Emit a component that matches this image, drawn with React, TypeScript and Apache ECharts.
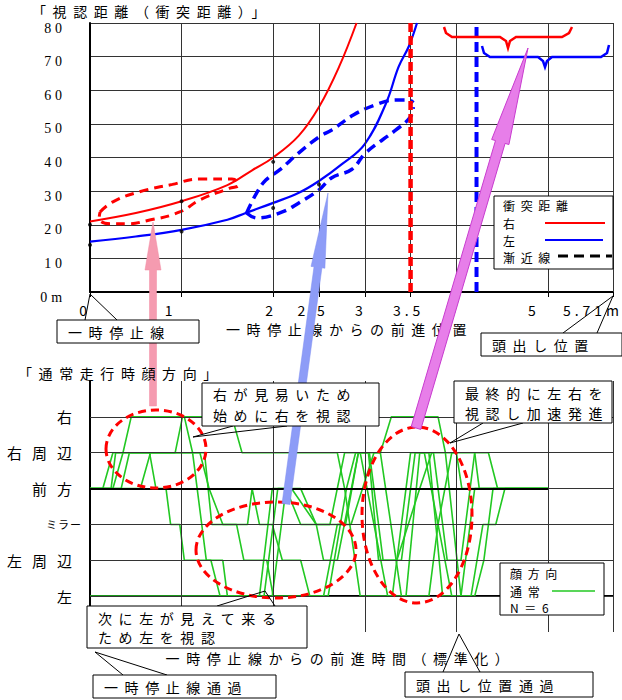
import { useEffect, useRef } from 'react';
import * as echarts from 'echarts';

const JP = '"Noto Sans CJK JP", "Noto Sans", sans-serif';
const SERIF = '"Liberation Serif", "DejaVu Serif", serif';

// ---------- top panel data ----------
const X_TICK_VALUES = [0, 1, 2, 2.5, 3, 3.5, 4, 5, 5.71];
const X_TICK_LABELS = ['0', '1', '2', '2.5', '3', '3.5', '4', '5', '5.71m'];
const X_GRID_TOP = [1, 2, 2.5, 3, 3.5, 4, 5, 5.71];

const RIGHT_DIST = [[0, 21], [0.5, 23.5], [1, 27], [1.5, 31.8], [1.77, 36.2], [2, 40], [2.28, 46.5], [2.5, 55], [2.72, 67], [2.91, 80]];
const LEFT_DIST = [[0, 15], [0.5, 16.5], [1, 18.5], [1.5, 21.5], [1.7, 23.5], [2, 26.5], [2.28, 29.5], [2.5, 33], [2.75, 38], [3, 44], [3.23, 56], [3.37, 67], [3.48, 73], [3.57, 80]];
const RIGHT_MEASURED = [[0, 20], [1, 27], [2, 38.7]];
const LEFT_MEASURED = [[0, 14], [1, 18], [2, 25], [2.5, 32]];
const RIGHT_ASYMPTOTE = 3.5;
const LEFT_ASYMPTOTE = 4.22;
const RIGHT_SPREAD = [[0.11, 23.8], [0.25, 26.8], [0.54, 29.8], [0.9, 32], [1.2, 33.6], [1.55, 33.6], [1.62, 31.8], [1.52, 30.8], [1.2, 27.4], [0.98, 23.8], [0.62, 21.2], [0.4, 20.3], [0.22, 20.3], [0.1, 22], [0.11, 23.8]];
const LEFT_SPREAD_UPPER = [[1.71, 23.5], [1.82, 29.5], [1.92, 33.3], [2.07, 36.3], [2.28, 41.4], [2.5, 46.1], [2.64, 48.2], [2.88, 52.7], [3.12, 55.7], [3.34, 57.1], [3.48, 57.1], [3.53, 56.3]];
const LEFT_SPREAD_LOWER = [[1.71, 23.5], [1.82, 22], [2.1, 23.8], [2.28, 26.5], [2.5, 30.4], [2.64, 34], [2.86, 36.5], [3.01, 41.4], [3.34, 48.2], [3.5, 52.1], [3.53, 55]];

// ---------- bottom panel data ----------
const LEVELS = ['左', '左周辺', 'ミラー', '前方', '右周辺', '右'];
const X_GRID_BOTTOM = [1, 2, 3, 4, 5, 5.71];
const SUBJECT_1 = [[0, 3], [0.25, 3], [0.36, 4], [0.45, 5], [1.03, 5], [1.12, 4], [1.25, 4], [1.33, 2], [1.6, 2], [1.68, 1], [1.93, 1], [2.0, 0], [2.55, 0], [2.7, 2], [2.85, 2], [3.1, 4], [3.17, 4], [3.29, 5], [3.8, 5], [3.88, 4], [4.0, 4], [4.06, 3], [5, 3]];
const SUBJECT_2 = [[0, 3], [0.14, 3], [0.25, 4], [0.93, 4], [1.01, 5], [1.55, 5], [1.66, 4], [2.7, 4], [2.78, 3], [2.95, 0], [3.3, 0], [3.5, 4], [3.65, 4], [3.95, 0], [4.16, 0], [4.29, 2], [4.43, 2], [4.53, 3], [5, 3]];
const SUBJECT_3 = [[0, 3], [0.23, 3], [0.28, 4], [1.12, 4], [1.27, 1], [1.45, 1], [1.5, 0], [1.9, 0], [2.05, 3], [2.2, 3], [2.47, 2], [2.62, 2], [2.78, 4], [2.95, 4], [3.1, 2], [3.25, 0], [3.45, 0], [3.6, 4], [3.75, 4], [3.9, 1], [4.05, 1], [4.2, 4], [4.35, 4], [4.45, 3], [5, 3]];
const SUBJECT_4 = [[0, 3], [0.34, 3], [0.43, 4], [0.65, 4], [0.72, 3], [0.83, 3], [0.88, 2], [0.98, 2], [1.03, 1], [1.32, 1], [1.42, 0], [1.85, 0], [1.99, 3], [2.14, 3], [2.3, 2], [2.47, 2], [2.55, 1], [2.7, 1], [2.93, 4], [3.05, 4], [3.2, 1], [3.4, 1], [3.55, 4], [3.7, 4], [3.85, 0], [4.05, 0], [4.2, 3], [5, 3]];
const SUBJECT_5 = [[0, 3], [0.55, 3], [0.66, 4], [1.2, 4], [1.3, 3], [1.45, 2], [1.72, 2], [1.77, 3], [1.85, 2], [1.99, 2], [2.1, 1], [2.3, 1], [2.4, 0], [2.6, 0], [2.8, 3], [2.9, 4], [3.04, 4], [3.15, 1], [3.35, 1], [3.6, 3], [3.73, 4], [3.88, 4], [4.05, 0], [4.2, 0], [4.3, 1], [4.4, 3], [5, 3]];
const SUBJECT_6 = [[0, 0], [1.99, 0], [2.14, 3], [2.3, 3], [2.47, 2], [2.79, 2], [2.93, 4], [3.17, 4], [3.4, 0], [3.7, 0], [3.8, 2], [3.95, 4], [4.2, 4], [4.25, 3], [5, 3]];
const SUBJECTS = [SUBJECT_1, SUBJECT_2, SUBJECT_3, SUBJECT_4, SUBJECT_5, SUBJECT_6];

const GREEN = '#22c822';
// right padding (px) per x tick label, to set each label slightly left of its tick as in the original
const X_LABEL_PAD = [10, 22, 4, 12, 8, 4, 6, 28, 40];

const LEVEL_SET = new Set(['左', '左周辺', '前方', '右周辺', '右']);
function spacingFor(t: string) {
  if (LEVEL_SET.has(t)) return '10px';
  if (t === 'ミラー') return '1px';
  if (/[\u3000-\u30ff\u4e00-\u9fff\uff00-\uffef]/.test(t)) return '0.47em';
  return '0.28em';
}
function applySpacing(root: HTMLElement) {
  root.querySelectorAll('text').forEach((el) => {
    const t = el.textContent || '';
    (el as SVGTextElement).style.letterSpacing = spacingFor(t);
  });
}

function arrowPts(tail: number[], tip: number[], headLen: number, headHalf: number, shaftHalf: number) {
  const dx = tip[0] - tail[0];
  const dy = tip[1] - tail[1];
  const L = Math.hypot(dx, dy);
  const ux = dx / L, uy = dy / L;
  const px = -uy, py = ux;
  const bx = tip[0] - ux * headLen, by = tip[1] - uy * headLen;
  return [
    [tail[0] + px * shaftHalf, tail[1] + py * shaftHalf],
    [bx + px * shaftHalf, by + py * shaftHalf],
    [bx + px * headHalf, by + py * headHalf],
    tip,
    [bx - px * headHalf, by - py * headHalf],
    [bx - px * shaftHalf, by - py * shaftHalf],
    [tail[0] - px * shaftHalf, tail[1] - py * shaftHalf],
  ];
}

function txt(text: string, x: number, y: number, size = 14, z = 102) {
  return { type: 'text', z, style: { text, x, y, fill: '#000', fontSize: size, fontFamily: JP, align: 'left', verticalAlign: 'middle' } };
}
function callout(x: number, y: number, w: number, h: number, lines: string[], lineYs: number[], pointer: number[][]) {
  return [
    { type: 'polyline', z: 100, shape: { points: pointer }, style: { stroke: '#000', fill: 'none', lineWidth: 1 } },
    { type: 'rect', z: 101, shape: { x, y, width: w, height: h }, style: { fill: '#fff', stroke: '#000', lineWidth: 1 } },
    ...lines.map((l, i) => txt(l, x + 11, lineYs[i])),
  ];
}

function buildOption() {
  const gridLine = { color: '#333', width: 1, type: 'solid' };
  const mlBase = { silent: true, symbol: ['none', 'none'], label: { show: false }, animation: false, emphasis: { disabled: true } };
  const xRich: Record<string, any> = {};
  X_LABEL_PAD.forEach((p, i) => {
    xRich['p' + i] = { fontSize: 14, fontFamily: JP, color: '#000', padding: [0, p, 0, 0] };
  });

  const graphics: any[] = [
    txt('「視認距離（衝突距離）」', 32, 11),
    txt('「通常走行時顔方向」', 18, 373),
    // top legend
    { type: 'rect', z: 60, shape: { x: 494, y: 196, width: 119, height: 73 }, style: { fill: '#fff', stroke: '#000', lineWidth: 1 } },
    txt('衝突距離', 503, 205, 12, 61),
    txt('右', 503, 223, 12, 61),
    txt('左', 503, 240, 12, 61),
    txt('漸近線', 503, 257, 12, 61),
    { type: 'line', z: 61, shape: { x1: 545, y1: 223, x2: 605, y2: 223 }, style: { stroke: '#ff0000', lineWidth: 2 } },
    { type: 'line', z: 61, shape: { x1: 545, y1: 240, x2: 603, y2: 240 }, style: { stroke: '#0000ff', lineWidth: 2 } },
    { type: 'line', z: 61, shape: { x1: 558, y1: 256, x2: 612, y2: 256 }, style: { stroke: '#000', lineWidth: 3, lineDash: [10, 6] } },
    // bottom legend
    { type: 'rect', z: 60, shape: { x: 500, y: 563, width: 104, height: 52 }, style: { fill: '#fff', stroke: '#000', lineWidth: 1 } },
    txt('顔方向', 510, 573, 12, 61),
    txt('通常', 510, 591, 12, 61),
    txt('N＝6', 510, 607, 12, 61),
    { type: 'line', z: 61, shape: { x1: 552, y1: 591, x2: 595, y2: 591 }, style: { stroke: GREEN, lineWidth: 1.5 } },
    // braces
    { type: 'polyline', z: 80, shape: { points: [[444, 27], [446, 33], [452, 37], [500, 37], [506, 41], [508, 48], [510, 41], [516, 37], [562, 37], [569, 33], [572, 27]] }, style: { stroke: '#ff0000', lineWidth: 2.5, fill: 'none' } },
    { type: 'polyline', z: 80, shape: { points: [[482, 46], [484, 53], [490, 57], [538, 57], [543, 61], [545, 67], [547, 61], [552, 57], [601, 57], [607, 53], [609, 45]] }, style: { stroke: '#0000ff', lineWidth: 2.5, fill: 'none' } },
    // arrows
    { type: 'polygon', z: 90, shape: { points: arrowPts([153, 406], [153, 222], 48, 8, 3.5) }, style: { fill: '#f59bb0', stroke: '#f38aa2', lineWidth: 0.5 } },
    { type: 'polygon', z: 90, shape: { points: arrowPts([286, 504], [328, 193], 75, 7, 4) }, style: { fill: '#8d9cf7', stroke: '#7d8cf0', lineWidth: 0.5 } },
    { type: 'polygon', z: 90, shape: { points: arrowPts([416, 428], [528, 48], 98, 9, 5) }, style: { fill: '#e77ee9', stroke: '#c83ccf', lineWidth: 1 } },
    // ellipses in bottom panel
    { type: 'ellipse', z: 80, shape: { cx: 156, cy: 449, rx: 50, ry: 39 }, style: { fill: 'none', stroke: '#ff0000', lineWidth: 3, lineDash: [8, 5] } },
    { type: 'ellipse', z: 80, shape: { cx: 276, cy: 550, rx: 80, ry: 48 }, style: { fill: 'none', stroke: '#ff0000', lineWidth: 3, lineDash: [8, 5] } },
    { type: 'ellipse', z: 80, shape: { cx: 417, cy: 515, rx: 55, ry: 88 }, style: { fill: 'none', stroke: '#ff0000', lineWidth: 3, lineDash: [8, 5] } },
    // callouts
    ...callout(57, 320, 142, 23, ['一時停止線'], [331.5], [[85, 320], [90, 294], [117, 320]]),
    ...callout(481, 333, 141, 23, ['頭出し位置'], [345], [[563, 333], [613, 296], [597, 333]]),
    ...callout(202, 383, 177, 43, ['右が見易いため', '始めに右を視認'], [394, 415], [[233, 426], [193, 437], [287, 426]]),
    ...callout(454, 381, 158, 42, ['最終的に左右を', '視認し加速発進'], [393, 413], [[483, 423], [450, 443], [523, 423]]),
    ...callout(87, 606, 220, 42, ['次に左が見えて来る', 'ため左を視認'], [618, 637], [[217, 606], [265, 591], [275, 606]]),
    ...callout(93, 675, 183, 23, ['一時停止線通過'], [686.5], [[123, 675], [95, 652], [167, 675]]),
    ...callout(405, 672, 188, 25, ['頭出し位置通過'], [684.5], [[443, 672], [459, 634], [480, 672]]),
  ];

  return {
    animation: false,
    backgroundColor: '#fff',
    textStyle: { fontFamily: JP },
    grid: [
      { left: 90, top: 23, width: 523, height: 269 },
      { left: 90, top: 381, width: 523, height: 251 },
    ],
    xAxis: [
      {
        gridIndex: 0, type: 'value', min: 0, max: 5.71, interval: 0.5,
        axisLine: { lineStyle: { color: '#000', width: 2 } },
        axisTick: { show: true, length: 5, inside: false, customValues: X_TICK_VALUES, lineStyle: { color: '#000' } },
        axisLabel: {
          customValues: X_TICK_VALUES, color: '#000', fontSize: 14, fontFamily: JP, margin: 11, showMaxLabel: true, showMinLabel: true,
          formatter: (v: number) => {
            const i = X_TICK_VALUES.findIndex((x) => Math.abs(x - v) < 1e-6);
            return i >= 0 ? `{p${i}|${X_TICK_LABELS[i]}}` : '';
          },
          rich: xRich,
        },
        splitLine: { show: false },
        name: '一時停止線からの前進位置', nameLocation: 'middle', nameGap: 30,
        nameTextStyle: { color: '#000', fontSize: 14, fontFamily: JP, padding: [0, 4, 0, 0] },
      },
      {
        gridIndex: 1, type: 'value', min: 0, max: 5.71, interval: 1,
        axisLine: { lineStyle: { color: '#000', width: 2 } },
        axisTick: { show: true, length: 5, inside: false, lineStyle: { color: '#000' } },
        axisLabel: { show: false },
        splitLine: { show: false },
        name: '一時停止線からの前進時間（標準化）', nameLocation: 'middle', nameGap: 19,
        nameTextStyle: { color: '#000', fontSize: 14, fontFamily: JP, padding: [0, 22, 0, 0] },
      },
    ],
    yAxis: [
      {
        gridIndex: 0, type: 'value', min: 0, max: 80, interval: 10,
        axisLine: { show: true, lineStyle: { color: '#000', width: 2 } },
        axisTick: { show: false },
        axisLabel: {
          color: '#000', fontSize: 14, fontFamily: SERIF, margin: 24,
          formatter: (v: number) => `{n|${v === 0 ? '0m' : String(v)}}`,
          rich: { n: { fontSize: 14, fontFamily: SERIF, color: '#000', padding: [10, 0, 0, 0] } },
        },
        splitLine: { show: true, lineStyle: gridLine },
      },
      {
        gridIndex: 1, type: 'value', min: -1, max: 6, interval: 1,
        axisLine: { show: true, lineStyle: { color: '#000', width: 2 } },
        axisTick: { show: false },
        axisLabel: {
          color: '#000', fontSize: 15, fontFamily: JP, margin: 8,
          formatter: (v: number) => (v === 2 ? '{m|ミラー}' : LEVELS[v] ?? ''),
          rich: { m: { fontSize: 11, fontFamily: JP, color: '#000' } },
        },
        splitLine: { show: false },
      },
    ],
    series: [
      // grid lines top
      {
        type: 'line', xAxisIndex: 0, yAxisIndex: 0, data: [[0, 0]], showSymbol: false, lineStyle: { opacity: 0 }, z: 1, silent: true,
        markLine: { ...mlBase, lineStyle: gridLine, data: X_GRID_TOP.map((v) => ({ xAxis: v })) },
      },
      // grid lines bottom
      {
        type: 'line', xAxisIndex: 1, yAxisIndex: 1, data: [[0, 3]], showSymbol: false, lineStyle: { opacity: 0 }, z: 1, silent: true,
        markLine: { ...mlBase, lineStyle: gridLine, data: [...X_GRID_BOTTOM.map((v) => ({ xAxis: v })), ...LEVELS.map((_, i) => ({ yAxis: i }))] },
      },
      // subjects
      ...SUBJECTS.map((d) => ({
        type: 'line', xAxisIndex: 1, yAxisIndex: 1, data: d, showSymbol: false, silent: true, z: 2,
        lineStyle: { color: GREEN, width: 1.6 },
      })),
      // thick front line
      {
        type: 'line', xAxisIndex: 1, yAxisIndex: 1, data: [[0, 3]], showSymbol: false, lineStyle: { opacity: 0 }, z: 3, silent: true,
        markLine: { ...mlBase, lineStyle: { color: '#000', width: 2, type: 'solid' }, data: [[{ coord: [0, 3] }, { coord: [5, 3] }]] },
      },
      // top: curves
      { type: 'line', xAxisIndex: 0, yAxisIndex: 0, data: RIGHT_DIST, smooth: 0.4, showSymbol: false, silent: true, z: 4, lineStyle: { color: '#ff0000', width: 2 } },
      { type: 'line', xAxisIndex: 0, yAxisIndex: 0, data: LEFT_DIST, smooth: 0.4, showSymbol: false, silent: true, z: 4, lineStyle: { color: '#0000ff', width: 2.2 } },
      { type: 'line', xAxisIndex: 0, yAxisIndex: 0, data: RIGHT_SPREAD, smooth: 0.5, showSymbol: false, silent: true, z: 4, lineStyle: { color: '#ff0000', width: 3, type: [9, 6] } },
      { type: 'line', xAxisIndex: 0, yAxisIndex: 0, data: LEFT_SPREAD_UPPER, smooth: 0.4, showSymbol: false, silent: true, z: 4, lineStyle: { color: '#0000ff', width: 3.5, type: [10, 6] } },
      { type: 'line', xAxisIndex: 0, yAxisIndex: 0, data: LEFT_SPREAD_LOWER, smooth: 0.4, showSymbol: false, silent: true, z: 4, lineStyle: { color: '#0000ff', width: 3.5, type: [10, 6] } },
      { type: 'line', xAxisIndex: 0, yAxisIndex: 0, data: [[RIGHT_ASYMPTOTE, 0], [RIGHT_ASYMPTOTE, 80]], showSymbol: false, silent: true, z: 5, lineStyle: { color: '#ff0000', width: 4.5, type: [9, 4] } },
      { type: 'line', xAxisIndex: 0, yAxisIndex: 0, data: [[LEFT_ASYMPTOTE, 0], [LEFT_ASYMPTOTE, 80]], showSymbol: false, silent: true, z: 5, lineStyle: { color: '#0000ff', width: 4, type: [10, 5] } },
      { type: 'scatter', xAxisIndex: 0, yAxisIndex: 0, data: [...RIGHT_MEASURED, ...LEFT_MEASURED], symbolSize: 4, silent: true, z: 6, itemStyle: { color: '#000' } },
    ],
    graphic: graphics,
  };
}

export default function App() {
  const ref = useRef<HTMLDivElement>(null);
  useEffect(() => {
    document.body.style.margin = '0';
    const el = ref.current!;
    const chart = echarts.init(el, null, { renderer: 'svg' });
    chart.setOption(buildOption() as any);
    const apply = () => applySpacing(el);
    apply();
    chart.on('finished', apply);
    const raf = requestAnimationFrame(apply);
    const to = setTimeout(apply, 60);
    return () => {
      cancelAnimationFrame(raf);
      clearTimeout(to);
      chart.dispose();
    };
  }, []);
  return <div ref={ref} style={{ width: 622, height: 700 }} />;
}
